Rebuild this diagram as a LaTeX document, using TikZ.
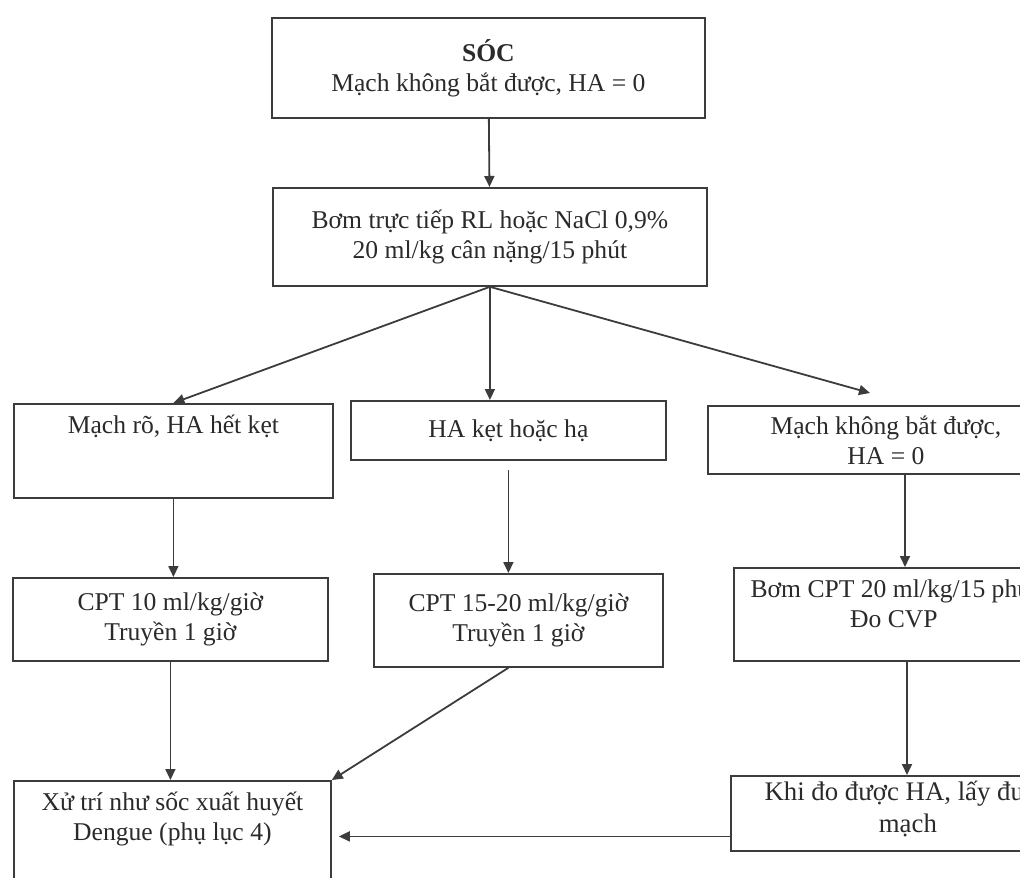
\documentclass[tikz,border=0pt]{standalone}
\usepackage{fontspec}
\setmainfont{Liberation Serif}
\usepackage{xcolor}
\usepackage{tikz}
\usetikzlibrary{arrows.meta,positioning}
\definecolor{inkline}{HTML}{3C3C3C}
\definecolor{inktext}{HTML}{2A2A2A}

\begin{document}
\begin{tikzpicture}[x=0.5bp, y=-0.5bp, every node/.style={font=\fontsize{12.8bp}{15bp}\selectfont, align=center, text=inktext}, box/.style={rectangle, draw=inkline, line width=0.9bp, inner sep=0pt, anchor=north west}, arr/.style={draw=inkline, line width=0.9bp, -{Triangle[length=5.5bp,width=5bp]}}]
\clip (0,0) rectangle (1020,878);
% top
\node[box, minimum width=216.5bp, minimum height=50bp] (soc) at (271,17) {\textbf{SÓC}\\Mạch không bắt được, HA = 0};
\node[box, minimum width=217bp, minimum height=49bp] (bom) at (272,187) {Bơm trực tiếp RL hoặc NaCl 0,9\%\\20 ml/kg cân nặng/15 phút};
% three branches
\node[box, minimum width=159.5bp, minimum height=47bp, text height=9bp, text depth=26bp] (mro) at (13,403) {Mạch rõ, HA hết kẹt};
\node[box, minimum width=157.5bp, minimum height=29.5bp] (hakep) at (350,400) {HA kẹt hoặc hạ};
\node[box, minimum width=178bp, minimum height=34bp] (mkb) at (707,405) {Mạch không bắt được,\\HA = 0};
\node[box, minimum width=157.5bp, minimum height=41.5bp] (cpt10) at (12,577) {CPT 10 ml/kg/giờ\\Truyền 1 giờ};
\node[box, minimum width=144.5bp, minimum height=46.5bp] (cpt15) at (373,573) {CPT 15-20 ml/kg/giờ\\Truyền 1 giờ};
\node[box, minimum width=160bp, minimum height=46.5bp, text height=24bp, text depth=11bp] (bomcpt) at (733,567) {Bơm CPT 20 ml/kg/15 phút\\Đo CVP};
\node[box, minimum width=177bp, minimum height=37.5bp, font=\fontsize{13.4bp}{16bp}\selectfont, text height=24bp, text depth=4.5bp] (khido) at (730,775) {Khi đo được HA, lấy được\\mạch};
\node[box, minimum width=158.5bp, minimum height=60bp, text height=24bp, text depth=24bp] (xutri) at (13,780) {Xử trí như sốc xuất huyết\\Dengue (phụ lục 4)};
% connectors
\coordinate (mkbin) at (870,393);
\coordinate (down3) at ([xshift=99bp]mkb.south west);
\coordinate (down4) at ([xshift=87bp]bomcpt.south west);
\coordinate (back) at ([yshift=-11.5bp]khido.west);
\draw[arr] (soc) -- (bom);
\draw[arr] (bom.south) -- (mro.north);
\draw[arr] (bom.south) -- (bom.south |- hakep.north);
\draw[arr] (bom.south) -- (mkbin);
\draw[arr] (mro.south) -- (mro.south |- cpt10.north);
\draw[arr, shorten <=4.5bp] (hakep.south) -- (hakep.south |- cpt15.north);
\draw[arr] (down3) -- (down3 |- bomcpt.north);
\draw[arr] (cpt10.south) -- (cpt10.south |- xutri.north);
\draw[arr] ([xshift=-5bp]cpt15.south) -- (xutri.north east);
\draw[arr] (down4) -- (down4 |- khido.north);
\draw[arr, shorten >=3.5bp] (back) -- (back -| xutri.east);
\end{tikzpicture}
\end{document}
